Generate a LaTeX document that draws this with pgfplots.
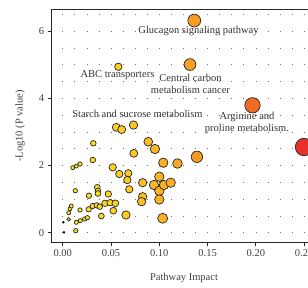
\documentclass[border=0pt]{standalone}
\usepackage{fontspec}
\setmainfont{Liberation Serif}
\usepackage{pgfplots}
\pgfplotsset{compat=1.18}
\begin{document}
\begin{tikzpicture}[x=1pt,y=1pt]
\begin{axis}[
  at={(51.7pt,44.7pt)}, anchor=south west,
  scale only axis, width=265.3pt, height=232.3pt,
  xmin=-0.0114, xmax=0.2633, ymin=-0.286, ymax=6.63,
  xtick={0,0.05,0.1,0.15,0.2,0.25}, ytick={0,2,4,6},
  minor xtick={0,0.0125,...,0.26}, minor ytick={0,0.5,...,6.5},
  grid=both,
  major grid style={draw=black!55, line width=0.7pt},
  minor grid style={draw=black!55, line width=0.7pt},
  x grid style={dash pattern=on 0.7pt off 16.1pt, dash phase=7.55pt},
  y grid style={dash pattern=on 0.7pt off 11.375pt, dash phase=1.425pt},
  axis line style={black!85, line width=1pt},
  tick style={black!85, line width=0.8pt},
  tick align=outside, major tick length=4pt, minor tick length=0pt,
  xtick pos=bottom, ytick pos=left,
  /pgf/number format/assume math mode=true,
  xticklabel style={/pgf/number format/.cd, fixed, fixed zerofill, precision=2},
  tick label style={font=\fontsize{10.5}{12}\selectfont, text=black!75},
  xlabel={Pathway Impact}, ylabel={-Log10 (P value)},
  label style={font=\fontsize{10.5}{12}\selectfont, text=black!75},
  xlabel style={at={(axis description cs:0.4987,-0.1537)}, anchor=center},
  ylabel style={at={(axis description cs:-0.1195,0.5006)}, anchor=center},
  colormap={bub}{rgb255(0cm)=(255,231,30) rgb255(5cm)=(253,212,30) rgb255(9cm)=(251,186,36) rgb255(13cm)=(247,160,36) rgb255(20cm)=(239,106,35) rgb255(25cm)=(232,48,42)},
  point meta min=0, point meta max=0.25,
]
\addplot[only marks, mark=*, mark size=1pt, black] coordinates {(0.0006,0.310) (0.0013,0.012)};
\addplot[scatter, only marks, mark=*, scatter src=x,
  scatter/use mapped color={draw=black!85, fill=mapped color},
  visualization depends on={\thisrow{r} \as \rad},
  scatter/@pre marker code/.append style={/tikz/mark size=\rad pt},
  mark options={line width=0.7pt}]
table {
x y r
0.0104 1.935 2.0
0.0141 1.985 2.0
0.0179 2.045 2.2
0.0062 0.399 1.8
0.0062 0.595 2.0
0.0076 0.714 2.0
0.0089 0.795 2.0
0.0141 0.310 2.1
0.0182 0.357 2.1
0.0228 0.408 2.2
0.0255 0.446 2.2
0.0135 0.060 2.2
0.0130 1.250 2.2
0.0179 0.676 2.2
0.0311 2.164 2.8
0.0317 2.661 2.8
0.0272 1.101 2.7
0.0269 0.696 2.7
0.0311 0.795 2.7
0.0352 0.815 2.7
0.0383 0.774 2.8
0.0400 0.497 2.9
0.0358 1.351 2.9
0.0365 1.241 2.9
0.0365 1.167 2.9
0.0438 0.875 3.2
0.0490 0.893 3.2
0.0472 1.152 3.2
0.0545 0.875 3.4
0.0524 0.655 3.4
0.0518 1.946 3.7
0.0576 4.940 3.7
0.0586 1.747 3.7
0.0679 1.768 3.7
0.0669 1.568 3.7
0.0689 1.292 3.7
0.0555 3.137 4.0
0.0611 3.071 4.0
0.0733 3.205 4.2
0.0736 2.363 4.0
0.0655 0.527 4.2
0.0828 1.488 4.2
0.0828 1.071 4.2
0.0816 0.923 4.2
0.0886 2.708 4.4
0.0955 2.491 4.7
0.0945 1.420 4.7
0.1000 1.667 4.7
0.1000 1.241 4.7
0.1000 0.988 4.7
0.1049 1.420 4.7
0.1118 1.488 4.7
0.1041 2.083 4.7
0.1035 0.429 5.0
0.1188 2.060 4.8
0.1318 5.006 5.9
0.1390 2.259 5.7
0.1362 6.315 6.4
0.1965 3.792 7.7
0.2498 2.551 8.7
};
\begin{scope}[every node/.style={font=\fontsize{10.5}{12}\selectfont, text=black!80, align=center, inner sep=0pt}]
\node at (axis cs:0.1406,6.012) {Glucagon signaling pathway};
\node at (axis cs:0.0567,4.693) {ABC transporters};
\node at (axis cs:0.1323,4.435) {Central carbon\\metabolism cancer};
\node at (axis cs:0.0774,3.524) {Starch and sucrose metabolism};
\node at (axis cs:0.1908,3.265) {Arginine and\\proline metabolism.};
\end{scope}
\end{axis}
\pgfresetboundingbox
\useasboundingbox (0,0) rectangle (308pt,287pt);
\end{tikzpicture}
\end{document}
